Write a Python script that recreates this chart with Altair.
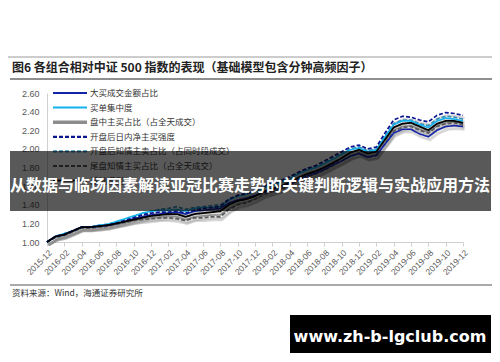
import altair as alt
import pandas as pd

# ---------------- data ----------------
months = ["2015-12",
          "2016-01", "2016-02", "2016-03", "2016-04", "2016-05", "2016-06",
          "2016-07", "2016-08", "2016-09", "2016-10", "2016-11", "2016-12",
          "2017-01", "2017-02", "2017-03", "2017-04", "2017-05", "2017-06",
          "2017-07", "2017-08", "2017-09", "2017-10", "2017-11", "2017-12",
          "2018-01", "2018-02", "2018-03", "2018-04", "2018-05", "2018-06",
          "2018-07", "2018-08", "2018-09", "2018-10", "2018-11", "2018-12",
          "2019-01", "2019-02", "2019-03", "2019-04", "2019-05", "2019-06",
          "2019-07", "2019-08", "2019-09", "2019-10", "2019-11", "2019-12"]
tick_labels = months[::2]
y_ticks = [1.0, 1.2, 1.4, 1.6, 1.8, 2.0, 2.2, 2.4, 2.6]

series_names = ["大买成交金额占比", "买单集中度", "盘中主买占比（占全天成交）",
                "开盘后日内净主买强度", "开盘后知情主卖占比（占同时段成交）",
                "尾盘知情主买占比（占全天成交）", "基础模型"]

big_buy = [1.00, 1.06, 1.08, 1.12, 1.16, 1.16, 1.17, 1.18, 1.20, 1.22, 1.25, 1.27, 1.29,
           1.30, 1.31, 1.32, 1.30, 1.33, 1.34, 1.35, 1.36, 1.42, 1.45, 1.47, 1.50,
           1.53, 1.56, 1.59, 1.62, 1.67, 1.71, 1.74, 1.78, 1.83, 1.87, 1.92, 1.95,
           1.91, 1.93, 2.05, 2.17, 2.21, 2.21, 2.16, 2.13, 2.20, 2.24, 2.25, 2.24]
buy_conc = [1.00, 1.06, 1.09, 1.12, 1.16, 1.16, 1.18, 1.19, 1.22, 1.25, 1.28, 1.31, 1.33,
            1.34, 1.34, 1.35, 1.33, 1.36, 1.37, 1.37, 1.38, 1.45, 1.49, 1.51, 1.54,
            1.58, 1.61, 1.64, 1.68, 1.73, 1.77, 1.80, 1.84, 1.89, 1.94, 1.99, 2.01,
            1.97, 1.99, 2.13, 2.26, 2.30, 2.30, 2.26, 2.23, 2.30, 2.33, 2.32, 2.30]
intraday_buy = [1.00, 1.05, 1.07, 1.11, 1.15, 1.15, 1.16, 1.17, 1.19, 1.21, 1.23, 1.25, 1.26,
                1.27, 1.28, 1.27, 1.24, 1.27, 1.28, 1.29, 1.29, 1.36, 1.41, 1.43, 1.46,
                1.51, 1.54, 1.57, 1.61, 1.66, 1.70, 1.73, 1.77, 1.82, 1.87, 1.93, 1.96,
                1.92, 1.94, 2.07, 2.20, 2.24, 2.25, 2.21, 2.18, 2.25, 2.28, 2.29, 2.27]
open_net_buy = [1.00, 1.06, 1.08, 1.12, 1.16, 1.16, 1.17, 1.18, 1.20, 1.23, 1.26, 1.29, 1.31,
                1.32, 1.32, 1.33, 1.31, 1.34, 1.36, 1.37, 1.38, 1.46, 1.50, 1.52, 1.55,
                1.60, 1.63, 1.66, 1.70, 1.75, 1.79, 1.82, 1.87, 1.92, 1.97, 2.02, 2.04,
                2.00, 2.02, 2.17, 2.31, 2.35, 2.34, 2.31, 2.29, 2.36, 2.39, 2.38, 2.36]
open_inf_sell = [1.00, 1.06, 1.09, 1.12, 1.16, 1.16, 1.18, 1.19, 1.21, 1.24, 1.27, 1.30, 1.33,
                 1.35, 1.36, 1.38, 1.35, 1.37, 1.38, 1.39, 1.40, 1.46, 1.50, 1.52, 1.55,
                 1.59, 1.62, 1.65, 1.69, 1.74, 1.78, 1.81, 1.85, 1.90, 1.95, 2.00, 2.02,
                 1.98, 2.00, 2.14, 2.27, 2.31, 2.31, 2.27, 2.25, 2.32, 2.35, 2.34, 2.32]
close_inf_buy = [1.00, 1.05, 1.07, 1.11, 1.15, 1.15, 1.16, 1.17, 1.19, 1.21, 1.23, 1.24, 1.25,
                 1.26, 1.26, 1.25, 1.23, 1.26, 1.26, 1.27, 1.27, 1.35, 1.40, 1.42, 1.46,
                 1.51, 1.54, 1.57, 1.61, 1.66, 1.70, 1.73, 1.77, 1.82, 1.87, 1.92, 1.95,
                 1.91, 1.93, 2.06, 2.19, 2.23, 2.24, 2.20, 2.17, 2.24, 2.27, 2.28, 2.26]
base_model = [1.00, 1.06, 1.08, 1.12, 1.16, 1.16, 1.17, 1.18, 1.20, 1.22, 1.24, 1.26, 1.28,
              1.29, 1.30, 1.30, 1.27, 1.30, 1.31, 1.32, 1.33, 1.40, 1.44, 1.46, 1.49,
              1.54, 1.57, 1.60, 1.64, 1.69, 1.73, 1.76, 1.80, 1.85, 1.90, 1.96, 1.99,
              1.95, 1.97, 2.10, 2.23, 2.27, 2.28, 2.24, 2.20, 2.27, 2.30, 2.30, 2.28]

series_values = [big_buy, buy_conc, intraday_buy, open_net_buy,
                 open_inf_sell, close_inf_buy, base_model]

# ---------------- styles ----------------
series_colors = ["#1424A8", "#14B2EC", "#8C8C8C", "#0A1590", "#3A8DB5", "#5A5A5A", "#000000"]
series_dash = [[1, 0], [1, 0], [1, 0], [4, 2], [4, 2], [4, 2], [1, 0]]
series_width = [1.6, 1.8, 3.4, 2.3, 2.2, 2.0, 1.8]
draw_order = [2, 5, 4, 1, 0, 3, 6]

rows = []
for k in draw_order:
    for m, v in zip(months, series_values[k]):
        rows.append({"month": m, "value": v, "series": series_names[k], "ord": draw_order.index(k)})
df = pd.DataFrame(rows)

CJK = "Noto Sans CJK SC"
LAT = "Liberation Sans"

x_enc = alt.X("month:O", sort=months, scale=alt.Scale(type="point", padding=0),
              title=None,
              axis=alt.Axis(values=tick_labels, labelAngle=-45, labelFontSize=8.5,
                            labelFont=LAT, labelColor="#595959", labelPadding=2,
                            tickSize=4, tickColor="#d0d0d0", domainColor="#d0d0d0",
                            grid=False))
y_enc = alt.Y("value:Q", scale=alt.Scale(domain=[1.0, 2.6], nice=False, zero=False),
              title=None,
              axis=alt.Axis(values=y_ticks, format=".2f", labelFontSize=9, labelFont=LAT,
                            labelColor="#595959", ticks=False, labelPadding=8,
                            domainColor="#d0d0d0", grid=False))

shadow = alt.Chart(df).mark_line(color="#8a8a8a", opacity=0.35, strokeWidth=2.6,
                                 xOffset=1.5, yOffset=3).encode(
    x=x_enc, y=y_enc, detail="series:N")

lines = alt.Chart(df).mark_line().encode(
    x=x_enc, y=y_enc,
    color=alt.Color("series:N", scale=alt.Scale(domain=series_names, range=series_colors), legend=None),
    strokeDash=alt.StrokeDash("series:N", scale=alt.Scale(domain=series_names, range=series_dash), legend=None),
    strokeWidth=alt.StrokeWidth("series:N", scale=alt.Scale(domain=series_names, range=series_width), legend=None),
    order="ord:Q",
)

one = pd.DataFrame({"a": [0]})
layers = [shadow, lines]

# manual legend (top-left inside plot)
for i, name in enumerate(series_names):
    yy = i * 14.6
    layers.append(alt.Chart(one).mark_rule(color=series_colors[i], strokeWidth=max(series_width[i], 2.0),
                                          strokeDash=series_dash[i]).encode(
        x=alt.value(6), x2=alt.value(40), y=alt.value(yy)))
    layers.append(alt.Chart(one).mark_text(align="left", baseline="middle", font=CJK,
                                          fontSize=8.5, color="#333333").encode(
        x=alt.value(43), y=alt.value(yy), text=alt.value(name)))

# header / footer decoration
layers.append(alt.Chart(one).mark_rule(color="#9a9a9a", strokeWidth=1).encode(
    x=alt.value(-40), x2=alt.value(446), y=alt.value(-36)))
layers.append(alt.Chart(one).mark_rule(color="#6a6a6a", strokeWidth=1.5).encode(
    x=alt.value(-37), x2=alt.value(446), y=alt.value(-14)))
layers.append(alt.Chart(one).mark_text(align="left", baseline="middle", font=CJK, fontSize=12,
                                      fontWeight="bold", color="#222222").encode(
    x=alt.value(-35), y=alt.value(-25),
    text=alt.value("图6  各组合相对中证 500 指数的表现（基础模型包含分钟高频因子）")))
layers.append(alt.Chart(one).mark_rule(color="#555555", strokeWidth=1).encode(
    x=alt.value(-37), x2=alt.value(446), y=alt.value(192)))
layers.append(alt.Chart(one).mark_text(align="left", baseline="middle", font=CJK, fontSize=8.5,
                                      color="#333333").encode(
    x=alt.value(-35), y=alt.value(200), text=alt.value("资料来源：Wind，海通证券研究所")))

# overlay banner
layers.append(alt.Chart(one).mark_rect(color="#000000", opacity=0.65).encode(
    x=alt.value(-37), x2=alt.value(444), y=alt.value(58), y2=alt.value(118)))
layers.append(alt.Chart(one).mark_text(align="center", baseline="middle", font=CJK, fontSize=16,
                                      fontWeight="bold", color="#ffffff").encode(
    x=alt.value(203), y=alt.value(93),
    text=alt.value("从数据与临场因素解读亚冠比赛走势的关键判断逻辑与实战应用方法")))

# watermark
layers.append(alt.Chart(one).mark_rect(color="#000000").encode(
    x=alt.value(243), x2=alt.value(444), y=alt.value(222), y2=alt.value(260)))
layers.append(alt.Chart(one).mark_text(align="center", baseline="middle", font="DejaVu Sans",
                                      fontSize=16, fontWeight="bold", color="#ffffff").encode(
    x=alt.value(343), y=alt.value(244), text=alt.value("www.zh-b-lgclub.com")))

chart = alt.layer(*layers).properties(
    width=416, height=149,
    padding={"left": 39, "top": 85, "right": 29, "bottom": 112},
    autosize=alt.AutoSizeParams(type="none"),
    background="#ffffff",
).configure_view(stroke=None)

chart.save("out.html", embed_options={"renderer": "svg", "actions": False})
